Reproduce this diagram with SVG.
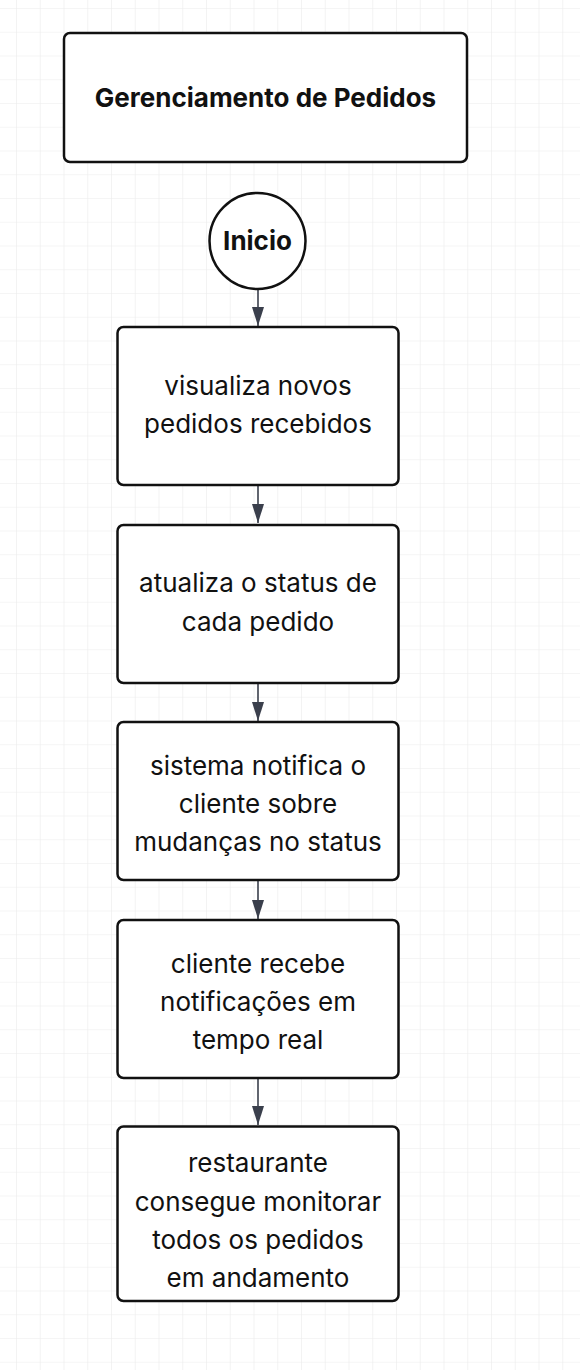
<svg xmlns="http://www.w3.org/2000/svg" width="580" height="1370" viewBox="0 0 580 1370">
<defs>
<pattern id="grid" patternUnits="userSpaceOnUse" x="16" y="8" width="23.75" height="23.75">
<path d="M0 0H23.75M0 0V23.75" fill="none" stroke="#ebebeb" stroke-width="1.2"/>
</pattern>
<marker id="arrow" viewBox="0 0 19 12" refX="19" refY="6" markerWidth="19" markerHeight="12" markerUnits="userSpaceOnUse" orient="auto">
<path d="M0 0L19 6L0 12Z" fill="#3a3f4c"/>
</marker>
</defs>
<style>
.box{fill:#ffffff;stroke:#111111;stroke-width:2.5}
.t{font-family:Inter,"Noto Sans","Liberation Sans",sans-serif;font-size:26px;fill:#111111;text-anchor:middle}
.b{font-weight:700}
.conn{stroke:#3a3f4c;stroke-width:1.6;fill:none}
</style>
<rect width="580" height="1370" fill="#ffffff"/>
<rect width="580" height="1370" fill="url(#grid)"/>

<g id="connectors">
<path class="conn" d="M258 290V326" marker-end="url(#arrow)"/>
<path class="conn" d="M258 486V523" marker-end="url(#arrow)"/>
<path class="conn" d="M258 684V721" marker-end="url(#arrow)"/>
<path class="conn" d="M258 881V919" marker-end="url(#arrow)"/>
<path class="conn" d="M258 1079V1125" marker-end="url(#arrow)"/>
</g>
<g id="n-title">
<rect class="box" x="64" y="33" width="403" height="129" rx="6"/>
<text class="t b" x="265.5" y="107">Gerenciamento de Pedidos</text>
</g>
<g id="n-inicio">
<circle class="box" cx="257.5" cy="241" r="48"/>
<text class="t b" x="257.5" y="250">Inicio</text>
</g>
<g id="n1">
<rect class="box" x="117.5" y="327" width="281" height="158" rx="6"/>
<text class="t" x="258" y="395">visualiza novos</text>
<text class="t" x="258" y="433">pedidos recebidos</text>
</g>
<g id="n2">
<rect class="box" x="117.5" y="525" width="281" height="158" rx="6"/>
<text class="t" x="258" y="592">atualiza o status de</text>
<text class="t" x="258" y="631">cada pedido</text>
</g>
<g id="n3">
<rect class="box" x="117.5" y="722" width="281" height="158" rx="6"/>
<text class="t" x="258" y="775">sistema notifica o</text>
<text class="t" x="258" y="813">cliente sobre</text>
<text class="t" x="258" y="851">mudanças no status</text>
</g>
<g id="n4">
<rect class="box" x="117.5" y="920" width="281" height="158" rx="6"/>
<text class="t" x="258" y="973">cliente recebe</text>
<text class="t" x="258" y="1011">notificações em</text>
<text class="t" x="258" y="1049">tempo real</text>
</g>
<g id="n5">
<rect class="box" x="117.5" y="1126.5" width="281" height="174.5" rx="6"/>
<text class="t" x="258" y="1172">restaurante</text>
<text class="t" x="258" y="1211">consegue monitorar</text>
<text class="t" x="258" y="1249">todos os pedidos</text>
<text class="t" x="258" y="1287">em andamento</text>
</g>
</svg>
